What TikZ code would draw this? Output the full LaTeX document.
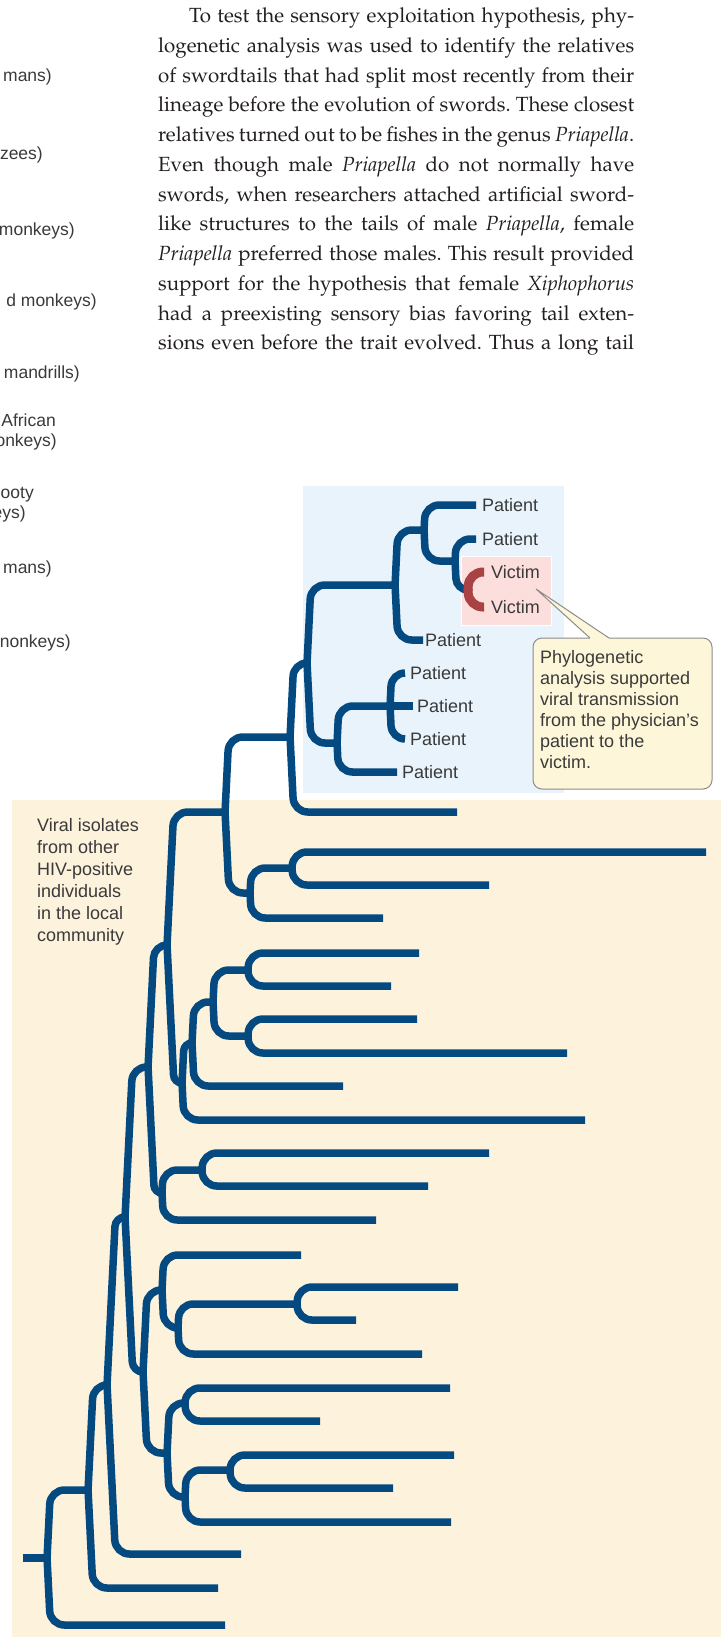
\documentclass[tikz,border=0pt]{standalone}
\usepackage[T1]{fontenc}
\usepackage{fontspec}
\usetikzlibrary{positioning,calc}

\newfontfamily\labelfont{Liberation Sans}
\newcommand{\bookfont}{\fontencoding{T1}\fontfamily{ppl}\selectfont}

\definecolor{treeblue}{RGB}{4,74,128}
\definecolor{victimred}{RGB}{168,66,68}
\definecolor{boxblue}{RGB}{232,243,251}
\definecolor{creambg}{RGB}{253,243,221}
\definecolor{pinkbg}{RGB}{252,223,220}
\definecolor{noteyellow}{RGB}{253,246,216}
\definecolor{notegray}{RGB}{140,140,140}
\definecolor{labgray}{RGB}{58,58,58}
\definecolor{inkblack}{RGB}{35,31,32}

% one branch: leaves the parent upright, bends into the child's row
\newcommand{\twig}[3][twig]{%
  \draw[#1] let \p1=(#2), \p2=(#3),
      \n1={0.05*abs(\y2-\y1)}, \n2={max(2pt,min(14pt,\x2-\x1-\n1))},
      \n3={sign(\y2-\y1)} in
    (\x1,\y1-\n3) [rounded corners=\n2] -- (\x1+\n1,\y2) -- (\p2);}

\begin{document}
\begin{tikzpicture}[
  x=1pt, y=-1pt,
  twig/.style = {draw=treeblue, line width=7.5pt},
  vic/.style  = {draw=victimred, line width=9pt},
  lab/.style  = {font=\labelfont\fontsize{18}{22}\selectfont, text=labgray,
                 inner sep=0pt},
  tag/.style  = {lab, text height=12.9pt, text depth=0pt},
  cut/.style  = {lab, font=\labelfont\fontsize{17.5}{20}\selectfont,
                 text height=12.5pt, text depth=0pt, anchor=east},
  note/.style = {draw=notegray, fill=noteyellow, line width=1pt,
                 rounded corners=9pt, minimum width=179pt,
                 minimum height=151pt, inner sep=0pt}
]
\useasboundingbox (0,0) rectangle (721,1637);

% ---------- panels ---------------------------------------------------------
\fill[boxblue] (303,486) rectangle (564,793);
\fill[creambg] (12,800) rectangle (721,1637);
\filldraw[fill=pinkbg, draw=white, line width=1pt] (461,556) rectangle (551,625);

% ---------- tail ends of the other tree, cut by the page -------------------
\foreach \tx/\xe/\ye [count=\i] in {mans)/52/75, zees)/43/153,
    monkeys)/75/229, d monkeys)/97/300, mandrills)/80/372,
    African/56/420, onkeys)/57/440, ooty/34/492, eys)/26/512,
    mans)/52/567, nonkeys)/71/641}
  \node[cut] (cut\i) at (\xe,\ye) {\tx};

% ---------- running text ---------------------------------------------------
\node[anchor=base west, inner sep=0pt, text=inkblack] (story) at (158,22.7)
  {\parbox[t]{476pt}{\bookfont\fontsize{20.5}{29.75}\selectfont
   \frenchspacing\hyphenpenalty=10000 \tolerance=10000 \parfillskip=0pt
   \hspace*{31pt}To test the sensory exploitation hypothesis, phy-\linebreak
   logenetic analysis was used to identify the relatives\linebreak
   of swordtails that had split most recently from their\linebreak
   lineage before the evolution of swords. These closest\linebreak
   relatives turned out to be fishes in the genus \textit{Priapella}.\linebreak
   Even though male \textit{Priapella} do not normally have\linebreak
   swords, when researchers attached artificial sword-\linebreak
   like structures to the tails of male \textit{Priapella}, female\linebreak
   \textit{Priapella} preferred those males. This result provided\linebreak
   support for the hypothesis that female \textit{Xiphophorus}\linebreak
   had a preexisting sensory bias favoring tail exten-\linebreak
   sions even before the trait evolved. Thus a long tail\par}};

% ---------- branch points --------------------------------------------------
\foreach \nm/\nx/\ny in {r/47/1558, a/88/1490, b/107/1385, c/125/1217,
    d/148/1067, e/143/1372, f/167/945, g/162/1193, h/225/812, i/182/1083,
    j/290/737, k/250/893, m/307/663, n/395/585, o/337/743, p/424/530,
    q/455/561, vr/468/590, s/390/706, t/292/868, u/192/1043, v/213/1002,
    w/248/970, x/248/1036, y/202/1170, z1/162/1290, z2/167/1453,
    z3/178/1328, z4/297/1304, z5/185/1403, z6/185/1497, z7/230/1470}
  \coordinate (\nm) at (\nx,\ny);

% ---------- tips -----------------------------------------------------------
\foreach \nm/\ex/\ey in {l505/476/505, l539/476/539, v1/484/572, v2/484/607,
    l640/423/640, l673/405/673, l706/413/706, l739/405/739, l772/397/772,
    l812/457/812, l852/706/852, l885/489/885, l918/383/918, l953/419/953,
    l986/391/986, l1019/417/1019, l1053/567/1053, l1086/343/1086,
    l1120/585/1120, l1153/489/1153, l1186/428/1186, l1220/376/1220,
    l1255/301/1255, l1287/458/1287, l1320/356/1320, l1354/422/1354,
    l1388/450/1388, l1421/320/1421, l1455/454/1455, l1488/393/1488,
    l1522/451/1522, l1554/241/1554, l1588/218/1588, l1625/225/1625}
  \coordinate (\nm) at (\ex,\ey);
\coordinate (stub) at (23,1558);

% ---------- tree -----------------------------------------------------------
\draw[twig] (stub) -- (r);
\foreach \pa/\ch in {r/a, r/l1625, a/b, a/l1588, b/c, b/l1554, c/d, c/e,
    d/f, d/g, f/h, f/i, h/j, h/k, j/m, j/l812, m/n, m/o, n/p, n/l640,
    p/l505, p/q, q/l539, q/vr, o/s, o/l772, s/l673, s/l739, k/t, k/l918,
    t/l852, t/l885, i/u, i/l1120, u/v, u/l1086, v/w, v/x, w/l953, w/l986,
    x/l1019, x/l1053, g/y, g/l1220, y/l1153, y/l1186, e/z1, e/z2,
    z1/l1255, z1/z3, z3/z4, z3/l1354, z4/l1287, z4/l1320, z2/z5, z2/z6,
    z5/l1388, z5/l1421, z6/z7, z6/l1522, z7/l1455, z7/l1488}
  {\twig{\pa}{\ch}}
\draw[twig] (s) -- (l706);

% the two victim isolates
\twig[vic]{vr}{v1}
\twig[vic]{vr}{v2}

% ---------- tip labels -----------------------------------------------------
\node[tag, right=6pt of l505] (pt1) {Patient};
\node[tag, right=6pt of l539] (pt2) {Patient};
\node[tag, right=7pt of v1] (vc1) {Victim};
\node[tag, right=7pt of v2] (vc2) {Victim};
\node[tag, right=2pt of l640] (pt3) {Patient};
\node[tag, right=5pt of l673] (pt4) {Patient};
\node[tag, right=4pt of l706] (pt5) {Patient};
\node[tag, right=5pt of l739] (pt6) {Patient};
\node[tag, right=5pt of l772] (pt7) {Patient};

\node[lab, align=left, anchor=north west] (local) at (37,818.6)
  {Viral isolates\\from other\\HIV-positive\\individuals\\in the local\\community};

% ---------- callout --------------------------------------------------------
\node[note] (note) at (622.5,713.5) {};
\coordinate (tip) at (536,589);
\fill[noteyellow] (590,641) -- (590,638) -- (tip) -- (609,638) -- (609,641) -- cycle;
\draw[notegray, line width=1pt] (590,638) -- (tip) -- (609,638);
\node[lab, align=left, anchor=north west,
      font=\labelfont\fontsize{18}{21}\selectfont] (notetext) at (540,650)
  {Phylogenetic\\analysis supported\\viral transmission\\from the physician’s\\patient to the\\victim.};

\end{tikzpicture}
\end{document}
